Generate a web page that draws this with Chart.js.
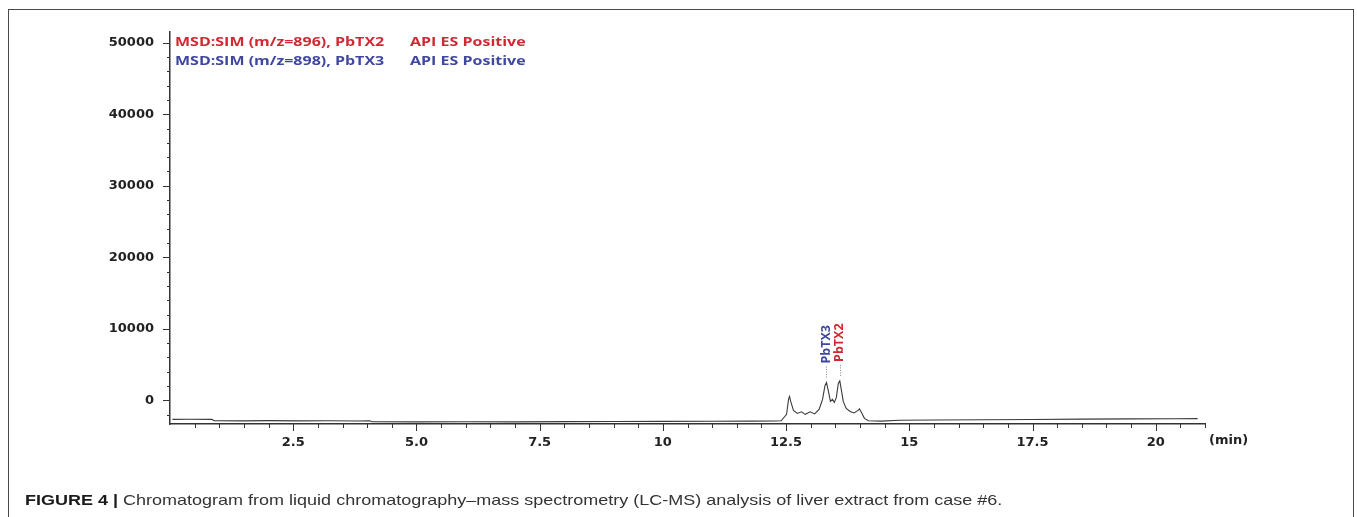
<!DOCTYPE html>
<html>
<head>
<meta charset="utf-8">
<script src="https://cdn.jsdelivr.net/npm/chart.js@4.4.1/dist/chart.umd.min.js"></script>
<style>
  html, body { margin: 0; padding: 0; background: #fff; }
  #wrap { position: relative; width: 1357px; height: 517px; overflow: hidden; }
  canvas { position: absolute; left: 0; top: 0; }
  #frame { position: absolute; left: 8px; top: 9px; width: 1344px; height: 530px; border: 1.5px solid #4a4a4a; pointer-events: none; }
  #caption { position: absolute; left: 25px; top: 491px; font-family: "Liberation Sans", Arial, sans-serif; font-size: 15px; color: #333; white-space: nowrap; transform: scaleX(1.2); transform-origin: left top; }
  #caption b { color: #1a1a1a; }
</style>
</head>
<body>
<div id="wrap">
  <canvas id="chromChart" width="1357" height="517"></canvas>
  <div id="frame"></div>
  <div id="caption"><b>FIGURE 4 |</b> Chromatogram from liquid chromatography–mass spectrometry (LC-MS) analysis of liver extract from case #6.</div>
</div>
<script>
// retention time (min) and detector signal
const traceTime = [
  0.05, 0.4, 0.85, 0.9, 1.5, 2.0, 2.6, 3.2, 3.8, 4.05, 4.1, 5.0, 6.0, 7.0, 8.0, 9.0, 10.0, 11.0, 11.8, 12.3,
  12.40, 12.51, 12.55, 12.57, 12.60, 12.65, 12.73, 12.81, 12.89, 12.99, 13.08, 13.17, 13.24, 13.29, 13.32,
  13.36, 13.40, 13.44, 13.48, 13.52, 13.56, 13.59, 13.62, 13.66, 13.72, 13.80, 13.88, 13.96, 13.99, 14.03,
  14.09, 14.17, 14.43, 14.8, 15.5, 16.5, 17.5, 18.5, 19.5, 20.4, 20.85
];
const traceIntensity = [
  -2650, -2640, -2660, -2840, -2860, -2830, -2870, -2850, -2880, -2860, -2990, -3000, -2980, -3000, -2970, -2950, -2930, -2920, -2900, -2880,
  -2850, -1950, 140, 560, -280, -1400, -1820, -1600, -1950, -1600, -1890, -1260, 140, 2100, 2500,
  1260, -140, 140, -280, 420, 2370, 2720, 1540, -140, -1120, -1540, -1750, -1400, -1190, -1680,
  -2510, -2850, -2900, -2780, -2750, -2700, -2680, -2620, -2580, -2560, -2550
];

const xMajorValues = [2.5, 5, 7.5, 10, 12.5, 15, 17.5, 20];
const xMajorLabels = ['2.5', '5.0', '7.5', '10', '12.5', '15', '17.5', '20'];
const yMajorValues = [0, 10000, 20000, 30000, 40000, 50000];
const yMajorLabels = ['0', '10000', '20000', '30000', '40000', '50000'];

const legendLines = ['MSD:SIM (m/z=896), PbTX2', 'MSD:SIM (m/z=898), PbTX3'];
const legendModes = ['API ES Positive', 'API ES Positive'];
const legendColors = ['#cf2a33', '#3f47a0'];

const peakNames = ['PbTX3', 'PbTX2'];
const peakTimes = [13.32, 13.59];
const peakColors = ['#3f47a0', '#cf2a33'];

const xMinor = [];
for (let v = 0.5; v <= 21; v += 0.5) xMinor.push(v);
const yMinor = [];
for (let v = -2000; v <= 50000; v += 2000) yMinor.push(v);

const SX = 1.28;
function stretchText(ctx, text, x, y) {
  ctx.save();
  ctx.translate(x, y);
  ctx.scale(SX, 1);
  ctx.fillText(text, 0, 0);
  ctx.restore();
}

const decorations = {
  id: 'decorations',
  afterDraw(chart) {
    const ctx = chart.ctx;
    const xs = chart.scales.x, ys = chart.scales.y, area = chart.chartArea;
    ctx.save();

    // tick marks
    ctx.strokeStyle = '#333';
    ctx.lineWidth = 1;
    ctx.beginPath();
    xMinor.forEach(v => {
      const px = Math.round(xs.getPixelForValue(v)) + 0.5;
      const len = xMajorValues.includes(v) ? 7 : 4;
      ctx.moveTo(px, area.bottom);
      ctx.lineTo(px, area.bottom + len);
    });
    yMinor.forEach(v => {
      const py = Math.round(ys.getPixelForValue(v)) + 0.5;
      const len = yMajorValues.includes(v) ? 7 : 3;
      ctx.moveTo(area.left - len, py);
      ctx.lineTo(area.left, py);
    });
    ctx.stroke();

    // axis unit
    ctx.fillStyle = '#222';
    ctx.font = 'bold 13px "DejaVu Sans"';
    ctx.textBaseline = 'middle';
    ctx.textAlign = 'left';
    ctx.fillText('(min)', area.right + 4, area.bottom + 17);

    // legend lines in the top-left corner
    ctx.font = 'bold 12.5px "Open Sans"';
    ctx.textBaseline = 'alphabetic';
    legendLines.forEach((t, i) => {
      ctx.fillStyle = legendColors[i];
      stretchText(ctx, t, area.left + 5, 46 + i * 18.5);
      stretchText(ctx, legendModes[i], area.left + 240, 46 + i * 18.5);
    });

    // peak labels with dotted leaders
    peakNames.forEach((name, i) => {
      let best = 0;
      traceTime.forEach((t, k) => {
        if (Math.abs(t - peakTimes[i]) < Math.abs(traceTime[best] - peakTimes[i])) best = k;
      });
      const px = xs.getPixelForValue(peakTimes[i]);
      const py = ys.getPixelForValue(traceIntensity[best]);
      ctx.strokeStyle = '#888';
      ctx.setLineDash([1, 1.5]);
      ctx.beginPath();
      ctx.moveTo(Math.round(px) + 0.5, py - 5);
      ctx.lineTo(Math.round(px) + 0.5, py - 16);
      ctx.stroke();
      ctx.setLineDash([]);
      ctx.save();
      ctx.translate(px, py - 19);
      ctx.rotate(-Math.PI / 2);
      ctx.fillStyle = peakColors[i];
      ctx.font = 'bold 12.5px "Open Sans"';
      ctx.textAlign = 'left';
      ctx.textBaseline = 'middle';
      ctx.fillText(name, 0, 0);
      ctx.restore();
    });

    ctx.restore();
  }
};

const ctx = document.getElementById('chromChart').getContext('2d');
new Chart(ctx, {
  type: 'line',
  data: {
    datasets: [{
      label: 'signal',
      data: traceTime.map((t, i) => ({x: t, y: traceIntensity[i]})),
      borderColor: '#3a3a3a',
      borderWidth: 1.1,
      pointRadius: 0,
      tension: 0,
      fill: false
    }]
  },
  options: {
    responsive: false,
    animation: false,
    events: [],
    layout: {padding: {left: 0, right: 152, top: 32, bottom: 62}},
    plugins: {legend: {display: false}, tooltip: {enabled: false}},
    scales: {
      x: {
        type: 'linear',
        min: 0,
        max: 21,
        afterBuildTicks: (scale) => { scale.ticks = xMinor.map(v => ({value: v})); },
        afterFit: (scale) => { scale.height = 31; },
        grid: {display: false},
        border: {display: true, color: '#333', width: 1.5},
        ticks: {
          autoSkip: false,
          maxRotation: 0,
          padding: 3,
          color: '#222',
          font: {family: 'DejaVu Sans', weight: 'bold', size: 13},
          callback: (v) => {
            const k = xMajorValues.indexOf(v);
            return k >= 0 ? xMajorLabels[k] : '';
          }
        }
      },
      y: {
        min: -3300,
        max: 51500,
        afterBuildTicks: (scale) => { scale.ticks = yMinor.map(v => ({value: v})); },
        afterFit: (scale) => { scale.width = 170; },
        grid: {display: false},
        border: {display: true, color: '#333', width: 1.5},
        ticks: {
          autoSkip: false,
          padding: 8,
          color: '#222',
          font: {family: 'DejaVu Sans', weight: 'bold', size: 13},
          callback: (v) => {
            const k = yMajorValues.indexOf(v);
            return k >= 0 ? yMajorLabels[k] : '';
          }
        }
      }
    }
  },
  plugins: [decorations]
});
</script>
</body>
</html>
